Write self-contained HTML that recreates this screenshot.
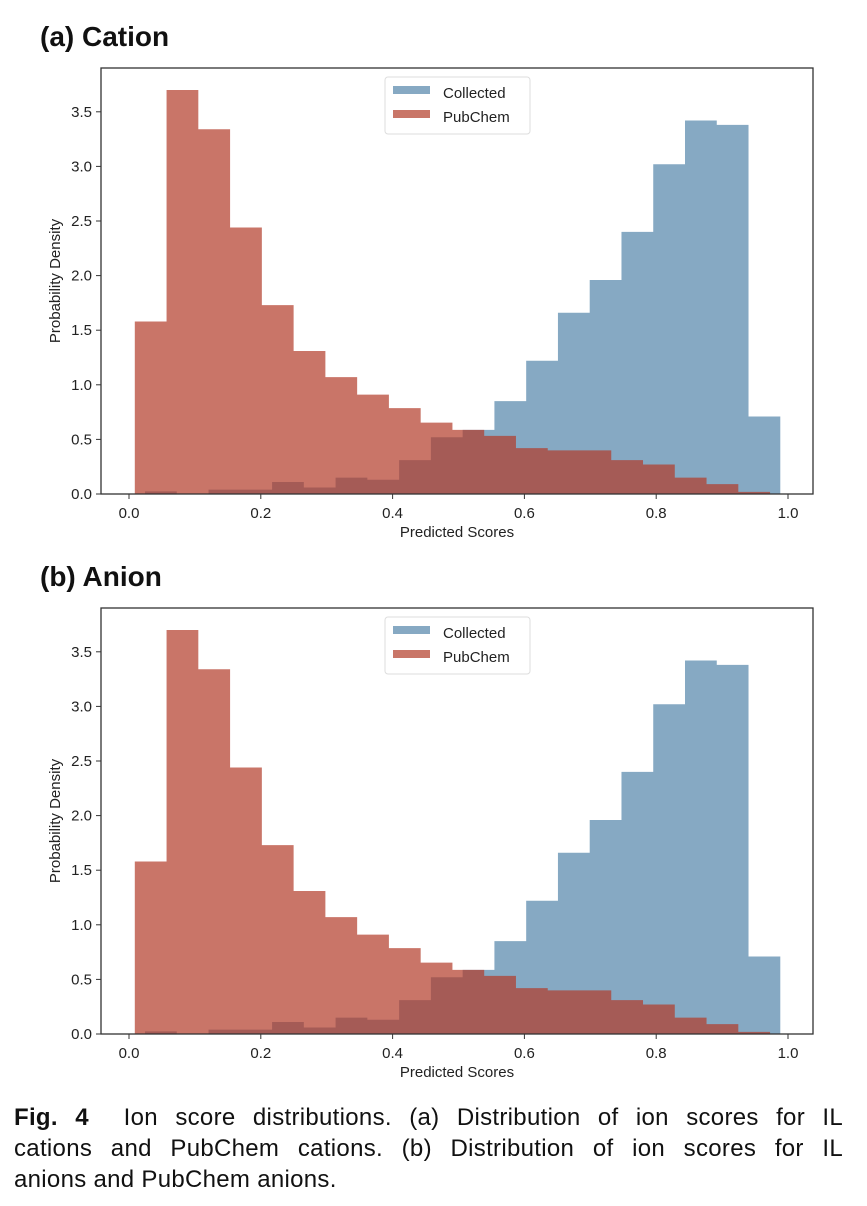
<!DOCTYPE html>
<html><head><meta charset="utf-8"><style>
body{margin:0;background:#fff;width:867px;height:1206px;overflow:hidden;position:relative;font-family:"Liberation Sans",sans-serif}
#cap{position:absolute;left:14px;top:1102px;width:829px;font-size:24px;line-height:31px;color:#111;letter-spacing:0.3px}
#cap div{text-align:justify;text-align-last:justify;white-space:nowrap}
#cap div.last{text-align-last:left}
</style></head><body>
<svg id="fig" width="867" height="1100" style="position:absolute;left:0;top:0"></svg>
<div id="cap"><div><b>Fig. 4</b>&nbsp; Ion score distributions. (a) Distribution of ion scores for IL</div><div>cations and PubChem cations. (b) Distribution of ion scores for IL</div><div class="last">anions and PubChem anions.</div></div>
<script>
const xTicks=[0.0,0.2,0.4,0.6,0.8,1.0];
const yTicks=[0.0,0.5,1.0,1.5,2.0,2.5,3.0,3.5];
const pubStart=0.0088, colStart=0.0243, binW=0.0482;
const pubchemA=[1.58,3.70,3.34,2.44,1.73,1.31,1.07,0.91,0.786,0.654,0.587,0.532,0.42,0.40,0.40,0.31,0.27,0.15,0.09,0.02];
const collectedA=[0.024,0.0,0.04,0.04,0.11,0.06,0.15,0.13,0.31,0.52,0.587,0.85,1.22,1.66,1.96,2.40,3.02,3.42,3.38,0.71];
const pubchemB=pubchemA.slice();
const collectedB=collectedA.slice();
const panels=[{title:"(a) Cation",dy:0,pub:pubchemA,col:collectedA,id:"a"},{title:"(b) Anion",dy:540,pub:pubchemB,col:collectedB,id:"b"}];
const NS="http://www.w3.org/2000/svg";
const svg=document.getElementById('fig');
function mk(tag,attrs,parent,text){const e=document.createElementNS(NS,tag);for(const k in attrs)e.setAttribute(k,attrs[k]);if(text!==undefined)e.textContent=text;(parent||svg).appendChild(e);return e;}
function stepPath(vals,start,sx,sy,B){let d=`M${sx(start)},${B}`;vals.forEach((v,i)=>{d+=`L${sx(start+i*binW)},${sy(v)}L${sx(start+(i+1)*binW)},${sy(v)}`;});d+=`L${sx(start+vals.length*binW)},${B}Z`;return d;}
panels.forEach(p=>{
  const L=101,R=813,T=68+p.dy,B=494+p.dy;
  const sx=v=>129+v*659, sy=v=>B-v*109.2;
  const g=mk('g',{});
  
  
  const t=mk('text',{x:40,y:46+p.dy,'font-size':28,'font-weight':'bold',fill:'#111'},g,p.title);
  
  
  const cp=mk('path',{d:stepPath(p.col,colStart,sx,sy,B),fill:'#86a9c3'},g);
  
  
  const pp=mk('path',{d:stepPath(p.pub,pubStart,sx,sy,B),fill:'rgb(178,59,40)','fill-opacity':0.7},g);
  
  
  const f=mk('rect',{x:L,y:T,width:R-L,height:B-T,fill:'none',stroke:'#333','stroke-width':1.3},g);
  
  
  xTicks.forEach(v=>{mk('line',{x1:sx(v),x2:sx(v),y1:B,y2:B+5,stroke:'#333'},g);
    const l=mk('text',{x:sx(v),y:B+24,'font-size':15,'text-anchor':'middle',fill:'#222'},g,v.toFixed(1));
    
    });
  yTicks.forEach(v=>{mk('line',{x1:L-5,x2:L,y1:sy(v),y2:sy(v),stroke:'#333'},g);
    const l=mk('text',{x:L-9,y:sy(v)+5,'font-size':15,'text-anchor':'end',fill:'#222'},g,v.toFixed(1));
    
    });
  const xl=mk('text',{x:457,y:537+p.dy,'font-size':15,'text-anchor':'middle',fill:'#222'},g,'Predicted Scores');
  
  
  const yl=mk('text',{x:0,y:0,'font-size':15,'text-anchor':'middle',fill:'#222',transform:`translate(60,${281+p.dy}) rotate(-90)`},g,'Probability Density');
  
  
  const lg=mk('g',{},g);
  
  
  mk('rect',{x:385,y:77+p.dy,width:145,height:57,rx:3,fill:'#fff','fill-opacity':0.85,stroke:'#ddd'},lg);
  mk('rect',{x:393,y:86+p.dy,width:37,height:8,fill:'#86a9c3'},lg);
  mk('rect',{x:393,y:110+p.dy,width:37,height:8,fill:'#c97668'},lg);
  const e1=mk('text',{x:443,y:98+p.dy,'font-size':15,fill:'#222'},lg,'Collected');
  
  
  const e2=mk('text',{x:443,y:122+p.dy,'font-size':15,fill:'#222'},lg,'PubChem');
  
  
});
</script>
</body></html>
